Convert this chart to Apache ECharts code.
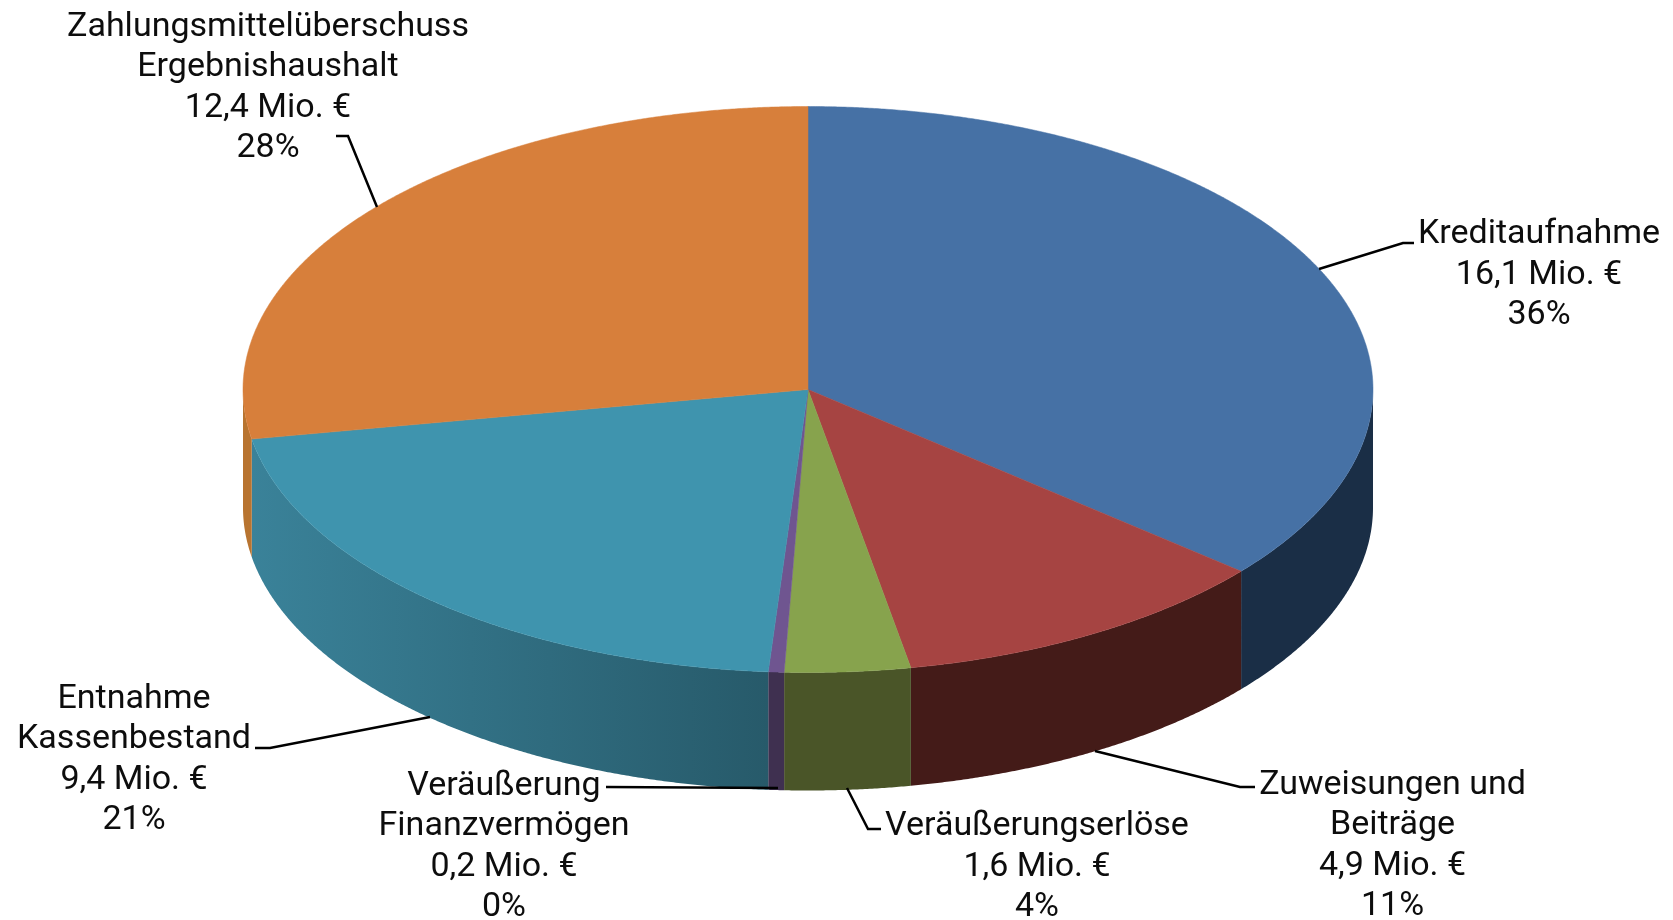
<!DOCTYPE html>
<html><head><meta charset="utf-8">
<style>html,body{margin:0;padding:0;background:#fff}#c{width:1673px;height:920px}</style>
<script src="https://cdn.jsdelivr.net/npm/echarts@6/dist/echarts.min.js"></script>
</head><body><div id="c"></div>
<script>
// data
const categories = ['Kreditaufnahme','Zuweisungen und\nBeiträge','Veräußerungserlöse','Veräußerung\nFinanzvermögen','Entnahme\nKassenbestand','Zahlungsmittelüberschuss\nErgebnishaushalt'];
const values = [16.1,4.9,1.6,0.2,9.4,12.4];
// styles
const topColors = ['#4671A5','#A64442','#87A34D','#6F5590','#3F94AE','#D77F3B'];
const sideColors = ['#1A2E46','#441B18','#4A5528','#3F3050',null,'#B87430'];
const tealSide = ['#3A8299','#275A6A'];
// layout
const CX=808, CY=389.5, RX=565, RY=283, DEPTH=118;
const labelCenters = [[1539,275],[1392.5,846],[1037,867],[504,847],[134,760],[268,88]];
const leaders = [
  [[1319,269],[1403,243],[1414,243]],
  [[1095,751],[1240,787],[1255,787]],
  [[847,788],[868,829],[881,829]],
  [[778,788],[606,787]],
  [[430,717],[270,748],[255,748]],
  [[377,207],[348,136],[336,136]]
];
const total = values.reduce((a,b)=>a+b,0);
const fmt = i => categories[i]+'\n'+values[i].toFixed(1).replace('.',',')+' Mio. €\n'+Math.round(values[i]/total*100)+'%';
const pt = (deg,dy)=>{const r=deg*Math.PI/180;return [CX+RX*Math.sin(r),CY-RY*Math.cos(r)+(dy||0)];};
const arc = (a,b,dy)=>{const n=Math.max(2,Math.ceil((b-a)/0.25));const o=[];for(let i=0;i<=n;i++)o.push(pt(a+(b-a)*i/n,dy));return o;};
const starts=[];values.reduce((s,v,i)=>{starts[i]=s;return s+v;},0);

const chart = echarts.init(document.getElementById('c'),null,{renderer:'canvas'});
chart.setOption({
  animation:false,
  backgroundColor:'#fff',
  series:[{
    type:'custom',
    coordinateSystem:'none',
    silent:true,
    data:values.map((v,i)=>({value:v,name:categories[i]})),
    renderItem:(params)=>{
      const i=params.dataIndex;
      const a0=starts[i]/total*360, a1=(starts[i]+values[i])/total*360;
      const ch=[];
      const w0=Math.max(a0,90), w1=Math.min(a1,270);
      if(w1>w0){
        const fill = sideColors[i] || {type:'linear',x:0,y:0,x2:1,y2:0,colorStops:[{offset:0,color:tealSide[0]},{offset:1,color:tealSide[1]}]};
        ch.push({type:'polygon',shape:{points:arc(w0,w1,0).concat(arc(w0,w1,DEPTH).reverse())},style:{fill:fill}});
      }
      ch.push({type:'polygon',shape:{points:[[CX,CY]].concat(arc(a0,a1,0))},style:{fill:topColors[i],stroke:topColors[i],lineWidth:0.5}});
      return {type:'group',children:ch};
    }
  },{
    type:'custom',
    coordinateSystem:'none',
    silent:true,
    data:values.map((v,i)=>({value:v,name:categories[i]})),
    renderItem:(params)=>{
      const i=params.dataIndex;
      return {type:'group',children:[
        {type:'polyline',shape:{points:leaders[i]},style:{stroke:'#000',lineWidth:2.5,fill:null}},
        {type:'text',x:labelCenters[i][0],y:labelCenters[i][1],style:{text:fmt(i),fill:'#0d0d0d',font:'400 34px Roboto',align:'center',verticalAlign:'middle',lineHeight:40.6}}
      ]};
    }
  }]
});
</script></body></html>
